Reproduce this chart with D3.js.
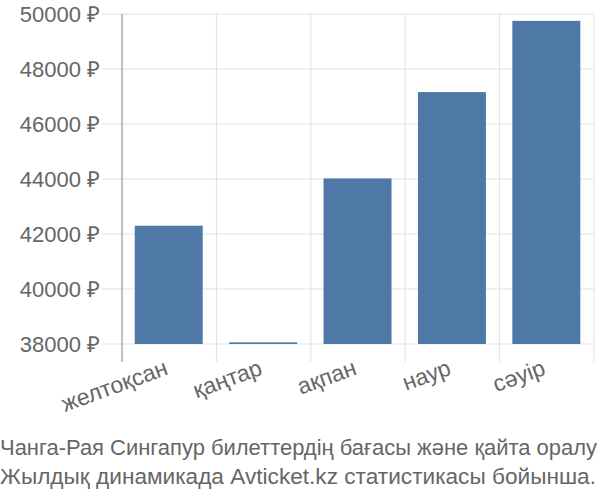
<!DOCTYPE html>
<html lang="kk">
<head>
    <meta charset="UTF-8">
    <title>Чанга-Рая Сингапур</title>
    <script src="https://d3js.org/d3.v7.min.js"></script>
    <style>
        body { margin: 0; background: #fff; overflow: hidden; }
        text { font-family: "Liberation Sans", Arial, sans-serif; fill: #666; }
    </style>
</head>
<body>

<div id="chart"></div>

<script>
    // Months and average ticket prices (₽)
    const months = ["желтоқсан", "қаңтар", "ақпан", "наур", "сәуір"];
    const prices = [42300, 38060, 44020, 47160, 49750];
    const yTicks = [38000, 40000, 42000, 44000, 46000, 48000, 50000];
    const captionLines = [
        "Чанга-Рая Сингапур билеттердің бағасы және қайта оралу",
        "Жылдық динамикада Avticket.kz статистикасы бойынша."
    ];

    const width = 600;
    const height = 500;
    const margin = { top: 14, right: 6, bottom: 156, left: 122 };

    const svg = d3.select("#chart")
        .append("svg")
        .attr("width", width)
        .attr("height", height);

    const x = d3.scaleBand()
        .domain(months)
        .range([margin.left, width - margin.right])
        .padding(0);

    const y = d3.scaleLinear()
        .domain([38000, 50000])
        .range([height - margin.bottom, margin.top]);

    const bottom = y(38000);

    // horizontal grid lines
    svg.append("g")
        .selectAll("line")
        .data(yTicks)
        .enter()
        .append("line")
        .attr("x1", margin.left - 20)
        .attr("x2", width - margin.right)
        .attr("y1", d => y(d))
        .attr("y2", d => y(d))
        .attr("stroke", "#e0e0e0")
        .attr("stroke-width", 1);

    // vertical grid lines at category boundaries
    const bounds = months.map(m => x(m)).concat([x(months[months.length - 1]) + x.bandwidth()]);
    svg.append("g")
        .selectAll("line")
        .data(bounds.slice(1))
        .enter()
        .append("line")
        .attr("x1", d => d)
        .attr("x2", d => d)
        .attr("y1", margin.top)
        .attr("y2", bottom + 18)
        .attr("stroke", "#e0e0e0")
        .attr("stroke-width", 1);

    // bars
    svg.append("g")
        .selectAll("rect")
        .data(prices)
        .enter()
        .append("rect")
        .attr("x", (d, i) => x(months[i]) + x.bandwidth() * 0.135)
        .attr("width", x.bandwidth() * 0.72)
        .attr("y", d => y(d))
        .attr("height", d => bottom - y(d))
        .attr("fill", "#4e79a7");

    // y axis line
    svg.append("line")
        .attr("x1", margin.left)
        .attr("x2", margin.left)
        .attr("y1", margin.top)
        .attr("y2", bottom + 18)
        .attr("stroke", "#aaa")
        .attr("stroke-width", 1.5);

    // y tick labels
    svg.append("g")
        .selectAll("text")
        .data(yTicks)
        .enter()
        .append("text")
        .attr("x", margin.left - 22)
        .attr("y", d => y(d))
        .attr("dy", "0.35em")
        .attr("text-anchor", "end")
        .style("font-size", "22px")
        .text(d => d + " ₽");

    // x tick labels, rotated
    svg.append("g")
        .selectAll("text")
        .data(months)
        .enter()
        .append("text")
        .attr("text-anchor", "end")
        .attr("transform", d => `translate(${x(d) + x.bandwidth() / 2}, ${bottom + 30}) rotate(-20)`)
        .style("font-size", "23px")
        .text(d => d);

    // caption, two lines stretched to the page width like the original
    svg.append("g")
        .selectAll("text")
        .data(captionLines)
        .enter()
        .append("text")
        .attr("x", 0)
        .attr("y", (d, i) => 455 + i * 29)
        .attr("textLength", (d, i) => i === 0 ? 597 : 596)
        .attr("lengthAdjust", "spacingAndGlyphs")
        .style("font-size", "22px")
        .text(d => d);
</script>

</body>
</html>
